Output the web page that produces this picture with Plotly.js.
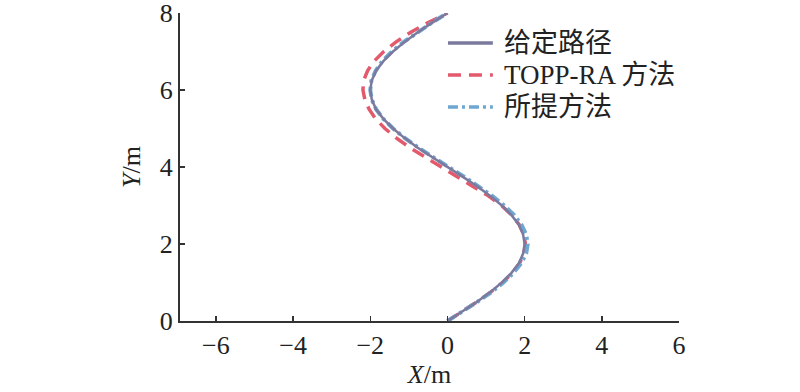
<!DOCTYPE html>
<html>
<head>
<meta charset="utf-8">
<script src="https://cdn.plot.ly/plotly-3.0.1.min.js"></script>
<style>html,body{margin:0;padding:0;background:#fff;}#chart{width:800px;height:392px;}</style>
</head>
<body>
<div id="chart"></div>
<script>
// Y positions along the path (m)
const yValues = [0,0.25,0.5,0.75,1,1.25,1.5,1.75,2,2.25,2.5,2.75,3,3.25,3.5,3.75,4,4.25,4.5,4.75,5,5.25,5.5,5.75,6,6.25,6.5,6.75,7,7.25,7.5,7.75,8];
// Given path X (m)
const xGiven = [0,0.39,0.77,1.11,1.41,1.66,1.85,1.96,2.0,1.96,1.85,1.66,1.41,1.11,0.77,0.39,0,-0.39,-0.77,-1.11,-1.41,-1.66,-1.85,-1.96,-2.0,-1.96,-1.85,-1.66,-1.41,-1.11,-0.77,-0.39,0];
// TOPP-RA method X (m)
const xTopp = [0,0.39,0.77,1.12,1.43,1.68,1.87,1.98,2.02,1.98,1.86,1.67,1.40,1.06,0.66,0.24,-0.18,-0.58,-0.97,-1.32,-1.62,-1.86,-2.03,-2.14,-2.19,-2.17,-2.07,-1.90,-1.65,-1.33,-0.95,-0.50,0];
// Proposed method X (m)
const xProp = [0,0.40,0.78,1.14,1.45,1.71,1.91,2.04,2.08,2.04,1.92,1.73,1.47,1.16,0.81,0.43,0.03,-0.37,-0.75,-1.10,-1.41,-1.66,-1.85,-1.96,-2.0,-1.97,-1.86,-1.69,-1.44,-1.13,-0.78,-0.40,0];
const seriesNames = ['给定路径','TOPP-RA 方法','所提方法'];
const xTicks = [-6,-4,-2,0,2,4,6];
const yTicks = [0,2,4,6,8];

const serif = 'Liberation Serif, Times New Roman, Noto Sans CJK SC, serif';
const colors = ['#7b7a9e', '#e25a6c', '#6fa7d1'];
const dashes = ['solid', '13px,8px', '10px,4px,3px,4px'];
const widths = [2.5, 3.5, 4];

const traces = [
  {x: xTopp, y: yValues, name: seriesNames[1], mode: 'lines',
   line: {color: colors[1], width: widths[1], dash: dashes[1]}},
  {x: xProp, y: yValues, name: seriesNames[2], mode: 'lines',
   line: {color: colors[2], width: widths[2], dash: dashes[2]}},
  {x: xGiven, y: yValues, name: seriesNames[0], mode: 'lines',
   line: {color: colors[0], width: widths[0]}}
];

// Custom legend (paper coordinates)
const legendRowsY = [0.903, 0.799, 0.695];
const shapes = [];
const annotations = [];
seriesNames.forEach((nm, i) => {
  shapes.push({type: 'line', xref: 'paper', yref: 'paper', x0: 0.537, x1: 0.627,
               y0: legendRowsY[i], y1: legendRowsY[i],
               line: {color: colors[i], width: 3.5, dash: dashes[i]}});
  annotations.push({xref: 'paper', yref: 'paper', x: 0.645, y: legendRowsY[i],
                    xanchor: 'left', yanchor: 'middle', showarrow: false, text: nm,
                    font: {family: serif, size: 27, color: '#222'}});
});

const layout = {
  width: 800, height: 392,
  margin: {l: 180, r: 121, t: 13, b: 71},
  paper_bgcolor: '#fff', plot_bgcolor: '#fff',
  font: {family: serif, size: 26, color: '#222'},
  showlegend: false,
  shapes: shapes,
  annotations: annotations,
  xaxis: {range: [-6.93, 6], tickvals: xTicks, ticks: 'inside', ticklen: 5, tickwidth: 1.5,
          tickcolor: '#333', showline: true, linecolor: '#333', linewidth: 2,
          showgrid: false, zeroline: false, mirror: false, ticklabeloverflow: 'allow',
          tickfont: {family: serif, size: 26},
          title: {text: '<i>X</i>/m', standoff: 2, font: {family: serif, size: 26}}},
  yaxis: {range: [0, 8], tickvals: yTicks, ticks: 'inside', ticklen: 5, tickwidth: 1.5,
          tickcolor: '#333', showline: true, linecolor: '#333', linewidth: 2,
          showgrid: false, zeroline: false, mirror: false, ticklabeloverflow: 'allow',
          tickfont: {family: serif, size: 26},
          title: {text: '<i>Y</i>/m', standoff: 12, font: {family: serif, size: 26}}}
};
Plotly.newPlot('chart', traces, layout, {staticPlot: true});
</script>
</body>
</html>
